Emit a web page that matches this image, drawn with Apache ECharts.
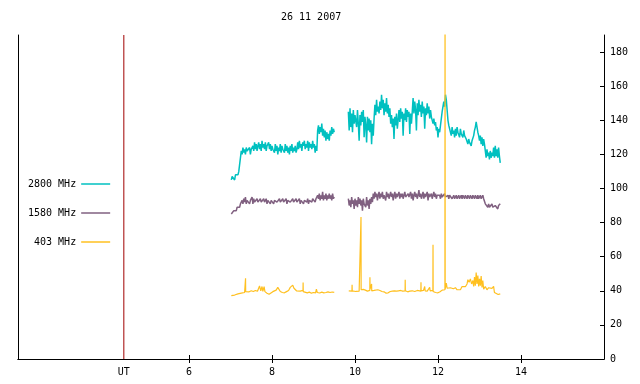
<!DOCTYPE html>
<html><head><meta charset="utf-8">
<script src="https://cdn.jsdelivr.net/npm/echarts@6/dist/echarts.min.js"></script>
<style>html,body{margin:0;padding:0;background:#fff}#c{width:640px;height:384px}</style>
</head><body><div id="c"></div>
<script>
const chartTitle = '26 11 2007';
const seriesNames = ['2800 MHz', '1580 MHz', '403 MHz'];
const seriesColors = ['#00c0c0', '#806080', '#ffc020'];
const xTicks = [6, 8, 10, 12, 14];
const yTicks = [0, 20, 40, 60, 80, 100, 120, 140, 160, 180];
const utTime = 4.43;
const xRange = [1.88, 16];
const yRange = [0, 190];
// sampling grid (UT hours) for the 2800 / 1580 records
const gridT0 = 7.02, gridStep = 0.02;
const v2800 = [
 105,107,106,108,105,108,107,109,108,110,109,111,
 122,120,124,121,123,120,124,122,123,121,124,120,123,122,
 125,122,127,123,126,122,125,127,123,126,122,128,124,126,123,127,122,125,124,127,123,126,122,125,123,
 124,121,126,122,125,120,124,122,126,121,125,123,124,121,126,122,125,121,124,120,125,122,126,121,124,122,125,121,123,
 127,123,128,124,126,122,127,125,128,123,126,124,128,122,127,124,126,123,128,124,126,121,125,122,
 134,137,132,136,133,138,131,135,130,134,128,133,129,132,128,134,131,136,132,135,133,
 null,null,null,null,null,null,null,null,null,null,null,null,null,null,null,null,
 145,134,147,136,144,133,146,138,143,
 144,136,146,138,128,143,137,145,139,146,130,142,137,
 127,142,134,141,133,140,126,138,131,141,
 149,143,152,145,148,144,151,146,155,147,152,143,150,145,153,144,149,142,147,
 138,143,136,141,129,142,137,144,135,140,
 146,139,147,141,145,131,144,140,147,139,146,142,145,132,144,138,
 145,153,144,151,146,134,150,143,152,145,149,142,151,144,148,135,147,143,150,144,148,141,146,142,
 142,138,141,137,139,134,136,130,135,133,
 137,141,145,148,151,148,155,152,146,
 140,137,135,
 135,131,136,132,134,130,135,131,136,133,134,130,135,132,133,130,134,131,132,129,
 128,126,129,127,128,125,128,127,
 131,134,136,139,136,133,131,
 128,131,126,130,125,129,126,
 122,118,123,119,121,117,122,118,121,119,
 124,118,125,119,123,118,124,119,115
];
const v1580 = [
 85,86,85,87,86,88,87,89,88,90,89,91,92,
 93,91,94,92,95,91,93,92,94,91,93,92,95,91,94,92,93,91,94,92,93,91,94,92,93,91,94,92,
 92,94,91,93,92,94,91,93,92,94,
 91,93,92,94,92,93,91,94,92,93,
 91,94,92,93,92,94,91,93,92,94,
 92,93,91,94,92,93,91,94,92,93,
 92,94,91,93,92,94,91,93,92,94,
 92,94,91,93,93,94,92,94,93,95,
 92,94,93,
 96,94,97,93,96,94,98,93,96,94,97,93,96,94,97,94,96,93,97,94,95,
 null,null,null,null,null,null,null,null,null,null,null,null,null,null,null,null,
 94,90,93,89,95,91,93,88,94,90,93,89,95,91,94,90,93,87,94,91,92,89,95,90,93,88,94,91,95,92,
 97,94,98,95,97,93,96,98,94,97,
 95,98,94,96,97,93,98,95,97,94,
 96,98,95,97,93,96,98,94,97,95,
 96,98,94,97,95,97,94,96,98,95,
 96,94,97,95,96,98,94,97,93,96,
 98,95,97,94,96,99,95,97,94,96,
 98,94,97,95,96,98,93,97,95,96,
 97,94,96,98,95,97,94,96,97,95,
 96,94,97,95,96,94,97,95,96,95,
 96,94,96,95,96,94,95,96,94,95,
 96,94,95,96,94,95,96,94,96,95,
 94,96,95,94,96,95,94,96,95,94,
 96,95,94,96,95,94,96,94,95,96,
 94,95,96,94,95,
 91,90,92,89,91,89,90,88,91,89,90,88,90,89,91,88,90,89,91
];
const s403 = [
 [7.02,37.2],[7.06,37.8],[7.10,37.5],[7.14,38.4],[7.18,38.2],[7.22,39],[7.26,38.6],[7.30,38.2],[7.34,39],[7.36,39.2],[7.363,47.4],[7.366,39.5],
 [7.40,39.8],[7.45,39.4],[7.50,40],[7.55,39.6],[7.60,40.2],[7.65,39.7],[7.70,42.8],[7.73,40],[7.76,42.5],[7.78,39.6],[7.81,42.4],[7.83,39.5],
 [7.88,38.6],[7.93,38],[7.97,38.4],[8.02,39.5],[8.06,40],[8.10,40.4],[8.14,42],[8.17,41.8],[8.20,39.6],[8.25,39],[8.30,38.8],[8.35,39.5],
 [8.40,40.2],[8.44,42],[8.47,41],[8.50,43.3],[8.53,41.5],[8.56,42.6],[8.59,40],[8.63,39.4],[8.68,39.8],[8.72,40.6],[8.747,40.2],[8.75,44.8],[8.753,39.5],
 [8.80,38.6],[8.85,38.8],[8.90,39.2],[8.95,38.6],[9.00,39],[9.05,38.8],[9.07,41],[9.09,39],[9.15,38.7],[9.20,39.2],[9.25,38.8],[9.30,39],
 [9.35,39.4],[9.40,39],[9.45,39.3],[9.50,39.1],[9.68,null],
 [9.85,40],[9.88,39.6],[9.927,39.8],[9.93,43.5],[9.933,40],[9.98,39.4],[10.02,39.6],[10.06,39.4],[10.10,39.8],[10.142,40.2],[10.145,83.3],[10.148,40.6],
 [10.20,40.8],[10.25,40.4],[10.30,39.8],[10.357,40.2],[10.36,48],[10.363,41],[10.397,40.6],[10.40,44],[10.403,40],[10.46,40.2],[10.50,40.4],[10.55,40.6],[10.60,40.2],
 [10.65,39.6],[10.70,39.4],[10.75,38.6],[10.80,38.8],[10.85,39.6],[10.90,39.8],[10.95,40],[11.00,39.8],[11.05,40],[11.10,40.2],[11.15,39.8],[11.207,40],
 [11.21,46.4],[11.213,40],[11.27,39.4],[11.32,39.8],[11.38,40],[11.44,39.6],[11.50,40.2],[11.587,39.8],[11.59,45],[11.593,40],[11.65,40.2],[11.68,42.5],
 [11.69,40],[11.74,39.8],[11.80,42],[11.81,40],[11.877,40.2],[11.88,67],[11.883,39.6],[11.94,39],[12.00,38.8],[12.05,39.4],[12.10,40.4],[12.167,40.6],
 [12.17,260],[12.173,41],[12.20,44.5],[12.22,41.5],[12.26,41],[12.30,41.8],[12.34,42.5],[12.37,41.2],[12.42,41.8],[12.46,40.6],[12.50,41.2],[12.54,40.6],
 [12.58,42.5],[12.62,43],[12.66,42.4],[12.70,44],[12.72,46.5],[12.75,45],[12.78,47],[12.81,44],[12.84,46],[12.86,42.5],[12.88,48],[12.90,43],
 [12.92,50.7],[12.94,44],[12.96,49],[12.98,42.5],[13.00,47],[13.02,43],[13.04,48.6],[13.06,42],[13.08,46],[13.10,41],[13.14,42.5],[13.18,40.6],
 [13.22,41.8],[13.26,40.8],[13.30,41.4],[13.34,42.6],[13.36,39],[13.40,38.4],[13.45,37.8],[13.50,38.2]
];

const FONT = 'DejaVu Sans Mono';
const toPairs = vals => vals.map((v, i) => [+(gridT0 + i * gridStep).toFixed(3), v]);

const chart = echarts.init(document.getElementById('c'), null, {renderer: 'canvas'});
const lineSeries = (name, data, color, width) => ({
  name, type: 'line', data, symbol: 'none', showSymbol: false,
  lineStyle: {color, width}, itemStyle: {color},
  xAxisIndex: 0, yAxisIndex: 0, clip: true, connectNulls: false, animation: false
});
chart.setOption({
  animation: false,
  backgroundColor: '#fff',
  title: {
    text: chartTitle, left: 281, top: 12, padding: 0,
    textStyle: {fontFamily: FONT, fontSize: 10, fontWeight: 'normal', color: '#000'}
  },
  legend: {
    data: seriesNames, orient: 'vertical', left: 28, top: 179, padding: 0,
    align: 'right', itemWidth: 29, itemHeight: 14, itemGap: 19,
    icon: 'path://M0,0L29,0L29,1.5L0,1.5Z', symbolKeepAspect: true,
    formatter: n => n.padStart(8, ' '),
    textStyle: {fontFamily: FONT, fontSize: 10, color: '#000'},
    selectedMode: false
  },
  grid: {left: 18, right: 36, top: 35, bottom: 25, containLabel: false},
  xAxis: [{
    type: 'value', position: 'bottom', min: xRange[0], max: xRange[1],
    axisLine: {lineStyle: {color: '#000', width: 1}},
    axisTick: {inside: true, length: 4, customValues: xTicks, lineStyle: {color: '#000'}},
    axisLabel: {customValues: [utTime].concat(xTicks), formatter: v => Math.abs(v - utTime) < 1e-6 ? 'UT' : String(v),
      fontFamily: FONT, fontSize: 10, color: '#000', margin: 8},
    splitLine: {show: false}
  }, {
    type: 'value', position: 'top', min: xRange[0], max: xRange[1],
    axisLine: {lineStyle: {color: '#000', width: 1}},
    axisTick: {inside: true, length: 4, customValues: xTicks, lineStyle: {color: '#000'}},
    axisLabel: {show: false}, splitLine: {show: false}
  }],
  yAxis: [{
    type: 'value', position: 'right', min: yRange[0], max: yRange[1],
    axisLine: {show: true, lineStyle: {color: '#000', width: 1}},
    axisTick: {show: true, inside: true, length: 4, customValues: yTicks, lineStyle: {color: '#000'}},
    axisLabel: {customValues: yTicks, fontFamily: FONT, fontSize: 10, color: '#000', margin: 6},
    splitLine: {show: false}
  }, {
    type: 'value', position: 'left', min: yRange[0], max: yRange[1],
    axisLine: {show: true, lineStyle: {color: '#000', width: 1}},
    axisTick: {show: false}, axisLabel: {show: false}, splitLine: {show: false}
  }],
  series: [
    lineSeries('UT', [[utTime, yRange[0]], [utTime, yRange[1]]], '#a00000', 1),
    lineSeries(seriesNames[0], toPairs(v2800), seriesColors[0], 1.5),
    lineSeries(seriesNames[1], toPairs(v1580), seriesColors[1], 1.5),
    lineSeries(seriesNames[2], s403, seriesColors[2], 1.2)
  ]
});
</script></body></html>
